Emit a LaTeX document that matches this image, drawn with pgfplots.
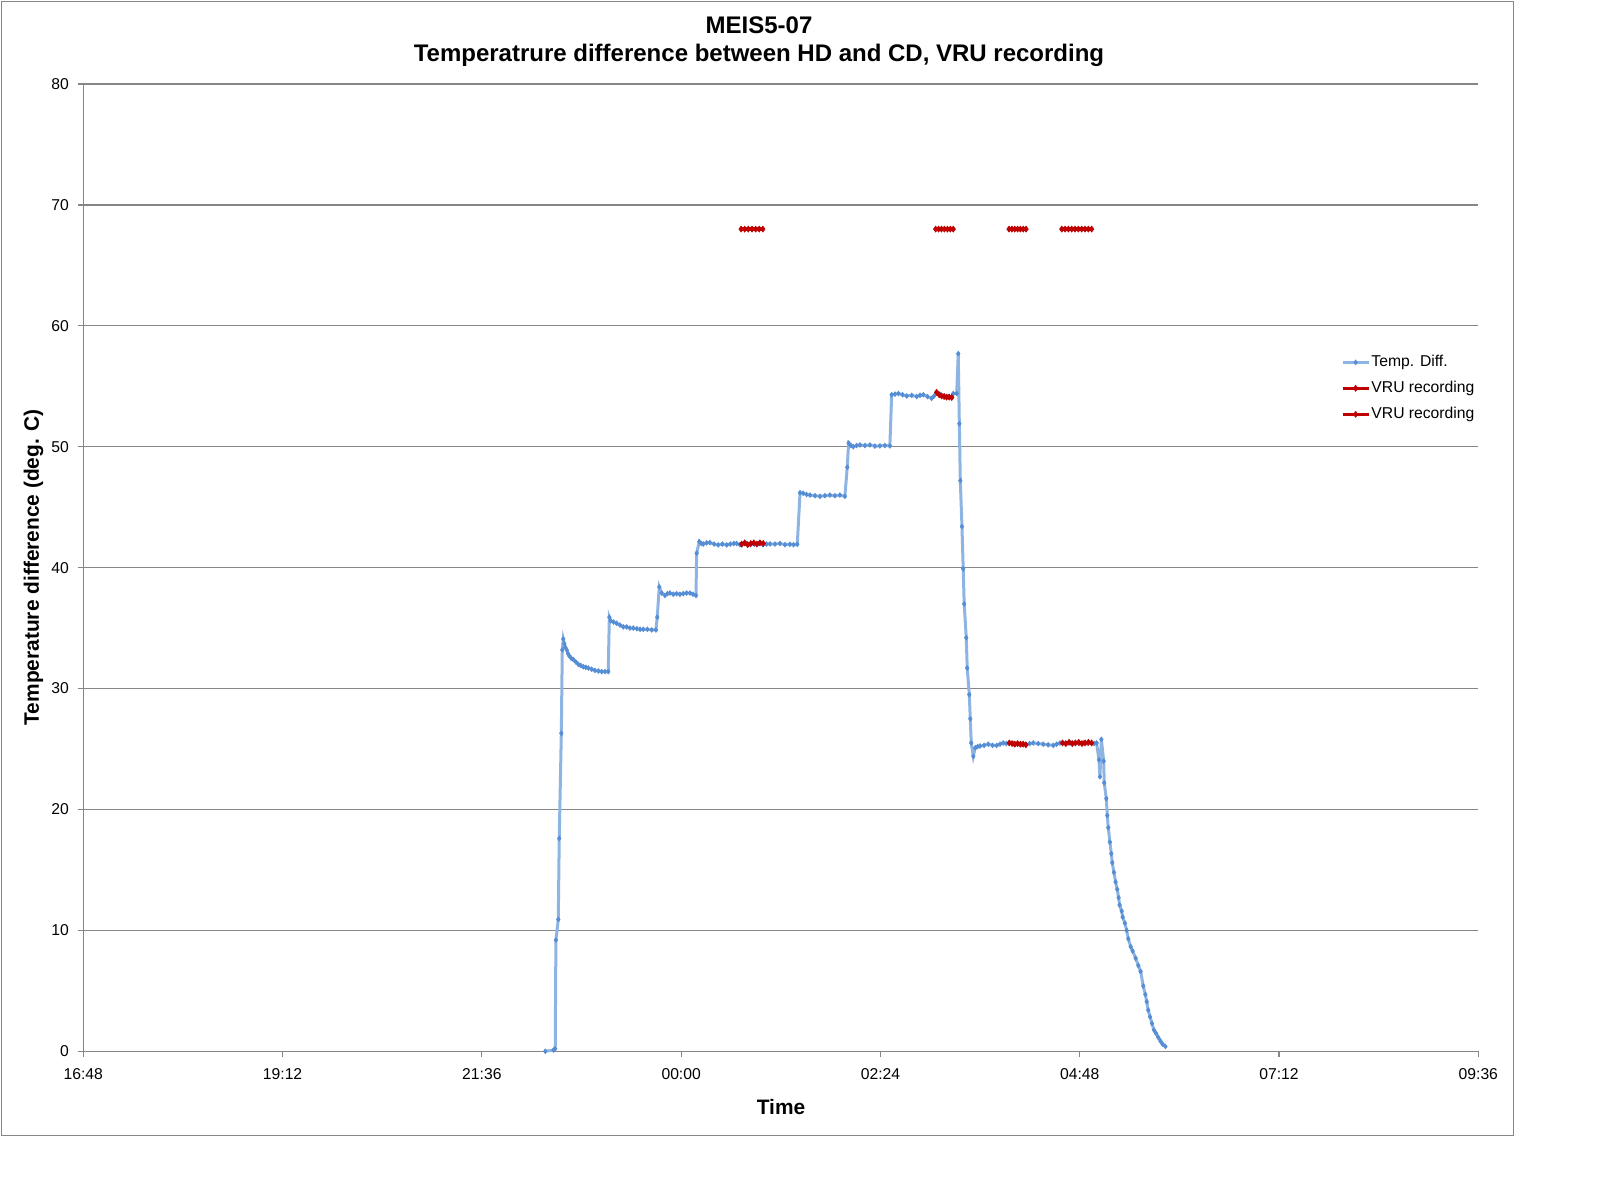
\documentclass[border=0pt]{standalone}
\usepackage{fontspec}
\setmainfont{Liberation Sans}
\usepackage{pgfplots}
\usepackage{pgfplotstable}
\pgfplotsset{compat=1.18}
\definecolor{gridgray}{RGB}{134,134,134}
\definecolor{tdline}{RGB}{141,180,226}
\definecolor{tdmark}{RGB}{85,142,213}
\definecolor{vru}{RGB}{192,0,0}

% x = minutes after 16:48, y = temperature difference (deg. C)
\pgfplotstableread{
x y
333.8 0.0
339.7 0.1
341.0 0.2
341.5 9.2
343.2 10.9
343.9 17.6
345.4 26.3
346.1 33.2
346.8 34.1
347.6 33.7
348.3 33.4
349.3 33.2
350.2 32.9
351.2 32.7
352.6 32.5
354.1 32.4
355.9 32.2
357.7 32.0
359.5 31.9
361.3 31.8
363.1 31.75
364.9 31.7
367.3 31.6
369.7 31.5
372.2 31.45
374.6 31.4
377.0 31.4
379.3 31.4
380.1 35.9
381.1 35.6
383.2 35.5
385.4 35.4
387.8 35.25
390.2 35.1
392.6 35.1
395.0 35.0
397.4 35.0
400.0 34.95
402.3 34.9
404.6 34.9
407.6 34.9
410.7 34.85
413.8 34.85
414.7 35.9
416.2 38.4
417.9 37.9
420.3 37.7
422.1 37.85
423.9 37.9
426.3 37.8
428.7 37.85
431.1 37.8
433.5 37.85
435.9 37.9
438.4 37.9
440.5 37.8
442.7 37.7
443.2 41.2
445.1 42.15
446.5 42.0
448.0 41.96
450.4 42.05
452.8 42.07
455.8 41.95
458.8 41.88
461.8 41.95
464.9 41.88
467.5 41.95
470.1 42.0
472.1 42.0
474.5 41.9
476.0 41.9
479.0 42.0
482.0 41.9
485.0 41.95
488.0 42.0
491.0 41.9
493.7 41.95
496.2 41.96
499.8 41.95
503.4 42.0
507.0 41.9
510.6 41.93
513.2 41.9
515.9 41.93
517.9 46.2
520.2 46.15
522.6 46.05
525.1 46.0
528.7 45.95
532.3 45.9
535.9 45.95
539.5 46.0
543.1 45.95
546.7 46.0
550.3 45.9
552.0 48.3
553.0 50.3
554.7 50.1
556.4 50.0
558.8 50.1
561.2 50.15
564.8 50.1
568.4 50.15
572.0 50.05
575.6 50.07
579.2 50.1
582.8 50.07
584.1 54.3
586.5 54.35
589.0 54.4
592.0 54.3
595.0 54.2
598.6 54.25
602.2 54.15
604.6 54.25
607.0 54.3
610.0 54.15
613.0 54.0
614.8 54.2
616.6 54.5
619.4 54.3
622.1 54.2
624.8 54.15
627.5 54.07
628.6 54.4
631.1 54.4
632.2 57.7
633.0 51.9
633.7 47.2
634.9 43.4
635.8 39.9
636.5 37.0
638.0 34.2
638.7 31.7
640.2 29.5
640.9 27.5
641.6 25.5
643.1 24.4
644.5 25.1
646.2 25.2
647.9 25.25
650.9 25.3
653.9 25.4
657.0 25.3
660.0 25.3
662.4 25.4
664.7 25.5
666.9 25.45
669.1 25.5
672.1 25.45
675.1 25.4
678.1 25.4
681.1 25.35
683.8 25.45
686.4 25.5
690.0 25.45
693.6 25.4
697.2 25.35
700.9 25.3
703.3 25.4
705.7 25.5
707.6 25.5
710.6 25.45
713.6 25.5
716.6 25.5
719.6 25.45
722.6 25.5
725.6 25.5
728.6 25.5
730.4 25.45
732.2 25.5
733.9 24.1
734.6 22.7
735.6 25.8
737.3 24.0
737.7 22.2
739.2 20.9
739.9 19.5
740.6 18.5
741.8 17.3
742.8 16.35
743.5 15.6
744.7 14.8
745.9 14.0
747.1 13.4
748.1 12.7
748.8 12.1
750.3 11.6
751.0 11.1
752.6 10.6
753.9 10.0
755.1 9.3
756.8 8.65
758.2 8.3
760.4 7.7
762.3 7.1
764.0 6.6
765.9 5.4
767.4 4.7
768.4 4.1
769.5 3.4
770.8 2.85
772.2 2.3
773.6 1.76
775.1 1.49
776.7 1.16
778.3 0.85
779.8 0.6
781.9 0.4
}\tempdiff

\pgfplotstableread{
x y
475.7 41.95
477.9 42.05
480.1 41.9
482.3 42.0
484.5 42.05
486.7 41.95
488.9 42.05
491.3 42.0
nan nan
616.6 54.5
618.4 54.3
620.2 54.2
622.0 54.15
623.8 54.1
625.7 54.1
627.5 54.07
nan nan
669.1 25.5
671.1 25.45
673.1 25.4
675.1 25.45
677.1 25.4
679.1 25.4
681.1 25.35
nan nan
707.6 25.5
709.9 25.45
712.3 25.55
714.6 25.45
716.9 25.5
719.3 25.55
721.6 25.45
723.9 25.5
726.3 25.55
728.6 25.5
}\vruone

\pgfplotstableread{
x y
475.3 68
477.9 68
480.5 68
483.2 68
485.8 68
488.4 68
491.0 68
nan nan
615.9 68
618.0 68
620.1 68
622.2 68
624.4 68
626.5 68
628.6 68
nan nan
668.9 68
671.0 68
673.0 68
675.1 68
677.1 68
679.2 68
681.2 68
nan nan
707.0 68
709.4 68
711.8 68
714.2 68
716.6 68
719.0 68
721.4 68
723.8 68
726.2 68
728.6 68
}\vrutwo

\begin{document}
\begin{tikzpicture}
\useasboundingbox (0,0) rectangle (799pt,601pt);
\fill[white] (0,0) rectangle (799pt,601pt);
\draw[gridgray, line width=0.6pt] (0.85pt,33.35pt) rectangle (756.65pt,600.15pt);
\begin{axis}[
  at={(41.65pt,75.35pt)}, anchor=south west,
  scale only axis, width=697.5pt, height=483.65pt,
  xmin=0, xmax=1008, ymin=0, ymax=80,
  clip=false,
  axis x line*=bottom, axis y line*=left,
  axis line style={gridgray, line width=0.6pt},
  xtick={0,144,288,432,576,720,864,1008},
  xticklabels={16:48,19:12,21:36,00:00,02:24,04:48,07:12,09:36},
  ytick={0,10,...,80},
  ymajorgrids,
  grid style={gridgray, line width=0.6pt},
  tick align=outside,
  major tick length=2.7pt,
  tick style={gridgray, line width=0.6pt},
  /pgf/number format/assume math mode=true,
  tick label style={font=\fontsize{7.85}{9.4}\selectfont, text=black, inner sep=0pt},
  xticklabel style={anchor=north, yshift=-5.5pt},
  yticklabel style={anchor=east, xshift=-4.3pt},
  unbounded coords=jump,
  legend cell align=left,
  legend style={
    at={(0.9016,0.7209)}, anchor=north west,
    draw=none, fill=none, inner sep=0pt, outer sep=0pt,
    font=\fontsize{7.85}{9.4}\selectfont,
    row sep=4.6pt,
    nodes={inner sep=0.6pt},
    /tikz/every odd column/.append style={column sep=0pt},
  },
  legend image code/.code={%
    \draw[mark repeat=2,mark phase=2,#1] plot coordinates {(0pt,0pt) (6.5pt,0pt) (13pt,0pt)};},
]
\addplot[color=tdline, line width=1.5pt, mark=diamond*, mark size=1.2pt,
  mark options={draw=tdmark, fill=tdmark, line width=0.3pt}] table[x=x,y=y] {\tempdiff};
\addlegendentry{Temp. Diff.}
\addplot[color=vru, line width=1.6pt, mark=diamond*, mark size=1.5pt,
  mark options={draw=vru, fill=vru, line width=0.3pt}] table[x=x,y=y] {\vruone};
\addlegendentry{VRU recording}
\addplot[color=vru, line width=1.6pt, mark=diamond*, mark size=1.5pt,
  mark options={draw=vru, fill=vru, line width=0.3pt}] table[x=x,y=y] {\vrutwo};
\addlegendentry{VRU recording}
\end{axis}
\node[anchor=base, font=\bfseries\fontsize{12}{13.8}\selectfont] at (379.5pt,584pt) {MEIS5-07};
\node[anchor=base, font=\bfseries\fontsize{12}{13.8}\selectfont] at (379.5pt,570.25pt) {Temperatrure difference between HD and CD, VRU recording};
\node[anchor=base, font=\bfseries\fontsize{10.45}{12}\selectfont] at (390.5pt,43.5pt) {Time};
\node[rotate=90, font=\bfseries\fontsize{10.45}{12}\selectfont] at (16.7pt,317.4pt) {Temperature difference (deg. C)};
\end{tikzpicture}
\end{document}
